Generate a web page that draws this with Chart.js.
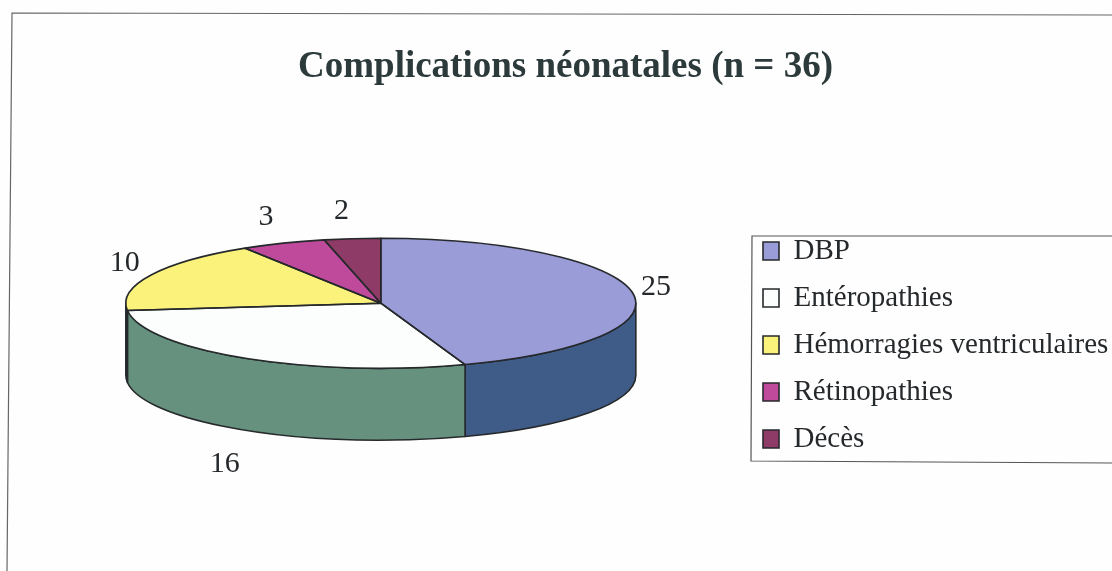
<!DOCTYPE html>
<html><head><meta charset="utf-8">
<style>html,body{margin:0;padding:0;background:#fefefe}canvas{display:block}</style>
<script src="https://cdn.jsdelivr.net/npm/chart.js@4"></script></head>
<body><canvas id="c" width="1112" height="571"></canvas>
<script>
const categories = ["DBP","Entéropathies","Hémorragies ventriculaires","Rétinopathies","Décès"];
const values = [25,16,10,3,2];
const topColors = ["#9a9cd8","#fbfefc","#fbf27c","#bf4a9c","#8f3b68"];
const sideColors = ["#3f5c88","#67917f","#67917f","#7f3168","#5f2745"];
const titleText = "Complications néonatales (n = 36)";
const SERIF = '"Liberation Serif","Times New Roman",serif';
const INK = "#26292b";
const SQUASH = 65/255, DEPTH = 72, RADIUS = 255;

const pie3d = {
  id:'pie3d',
  beforeDraw(chart){
    const c = chart.ctx; c.save();
    c.strokeStyle="#666"; c.lineWidth=1.2;
    c.beginPath(); c.moveTo(7,571); c.lineTo(12,13); c.lineTo(1112,15); c.stroke();
    c.restore();
  },
  afterLayout(chart){
    const l = chart.legend;
    const h = l.bottom-l.top;
    l.left = 745; l.right = 745+l.width;
    l.top = 345-h/2; l.bottom = l.top+h;
    const t = chart.titleBlock;
    t.left -= 2; t.right -= 2;
  },
  beforeDatasetDraw(chart,args){
    const c = chart.ctx, arcs = args.meta.data;
    const {x:cx,y:cy} = arcs[0];
    const ry = RADIUS*SQUASH;
    arcs.forEach((a,i)=>{
      const s = Math.max(a.startAngle,0), e = Math.min(a.endAngle,Math.PI);
      if(e<=s) return;
      c.save();
      c.beginPath();
      c.ellipse(cx,cy,RADIUS,ry,0,s,e);
      c.ellipse(cx,cy+DEPTH,RADIUS,ry,0,e,s,true);
      c.closePath();
      c.fillStyle = sideColors[i]; c.fill();
      c.strokeStyle = INK; c.lineWidth=1.6; c.lineJoin='round'; c.stroke();
      c.restore();
    });
    c.save();
    c.translate(cx,cy); c.scale(1,SQUASH); c.translate(-cx,-cy);
  },
  afterDatasetDraw(chart,args){
    const c = chart.ctx, arcs = args.meta.data;
    c.restore();
    const {x:cx,y:cy} = arcs[0];
    const ry = RADIUS*SQUASH;
    c.save();
    c.strokeStyle = INK; c.lineWidth=1.6; c.lineJoin='round';
    arcs.forEach(a=>{
      c.beginPath();
      c.moveTo(cx,cy);
      c.ellipse(cx,cy,RADIUS,ry,0,a.startAngle,a.endAngle);
      c.closePath(); c.stroke();
    });
    c.restore();
  },
  afterDraw(chart){
    const c = chart.ctx, arcs = chart.getDatasetMeta(0).data;
    const {x:cx,y:cy} = arcs[0];
    c.save();
    c.strokeStyle="#555"; c.lineWidth=1.2;
    c.beginPath(); c.moveTo(1112,236); c.lineTo(752,236); c.lineTo(751,461); c.lineTo(1112,463); c.stroke();
    c.fillStyle=INK; c.font='30px '+SERIF; c.textAlign='center'; c.textBaseline='middle';
    arcs.forEach((a,i)=>{
      const m = (a.startAngle+a.endAngle)/2;
      const sx = Math.cos(m), sy = Math.sin(m);
      const x = cx + RADIUS*1.1*sx - 8*Math.abs(sy);
      let y = cy + 93*sy;
      if(sy>0.5) y += DEPTH+10;
      c.fillText(String(values[i]),x,y);
    });
    c.restore();
  }
};

new Chart(document.getElementById('c'),{
  type:'pie',
  data:{labels:categories,datasets:[{data:values,backgroundColor:topColors,borderWidth:0,clip:false}]},
  plugins:[pie3d],
  options:{
    responsive:false,animation:false,radius:RADIUS,
    layout:{padding:{left:23,right:0,top:45,bottom:64}},
    plugins:{
      tooltip:{enabled:false},
      title:{display:true,text:titleText,color:"#2c3a3c",font:{family:SERIF,size:37,weight:'bold'},padding:{top:0,bottom:10}},
      legend:{position:'right',labels:{
        color:INK,font:{family:SERIF,size:29},boxWidth:16,boxHeight:18,padding:18,
        generateLabels(chart){
          return Chart.overrides.pie.plugins.legend.labels.generateLabels(chart).map(it=>({...it,strokeStyle:INK,lineWidth:1.6}));
        }
      }}
    }
  }
});
</script></body></html>
